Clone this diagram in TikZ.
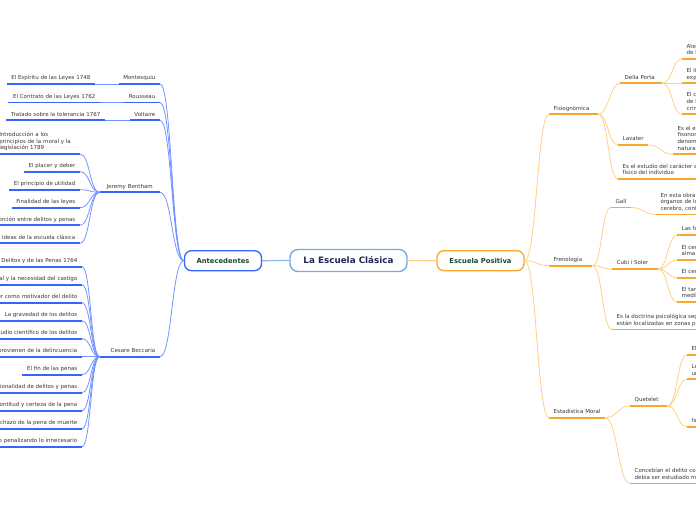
\documentclass[tikz,border=0pt]{standalone}
\usepackage{fontspec}
\setmainfont{DejaVu Sans}
\definecolor{txt}{RGB}{55,55,55}
\definecolor{bline}{RGB}{51,102,255}
\definecolor{bcurve}{RGB}{115,148,255}
\definecolor{oline}{RGB}{249,168,40}
\definecolor{ocurve}{RGB}{255,208,135}
\definecolor{cborder}{RGB}{120,170,225}
\definecolor{cline}{RGB}{140,182,235}
\definecolor{navy}{RGB}{28,40,85}
\definecolor{dgreen}{RGB}{25,72,52}
\tikzset{
 lbl/.style={font=\fontsize{5.5}{6.6}\selectfont, text=txt, inner xsep=4.5pt, inner ysep=2.5pt, text height=4.2pt, text depth=1.5pt},
 bl/.style={lbl, anchor=south east},
 ol/.style={lbl, anchor=south west},
 bul/.style={draw=bline, line width=1.7pt},
 oul/.style={draw=oline, line width=1.7pt},
 bc/.style={draw=bcurve, line width=0.8pt},
 oc/.style={draw=ocurve, line width=0.8pt},
 topic/.style={draw, line width=1.3pt, rounded corners=7pt, fill=white, minimum height=20pt, inner sep=0pt, font=\fontsize{6.8}{8}\selectfont\bfseries, text=dgreen}
}
\begin{document}
\begin{tikzpicture}[x=1pt,y=-1pt]
\useasboundingbox (0,0) rectangle (696,520);
\clip (0,0) rectangle (696,520);
% central nodes
\node[draw=cborder, line width=1.4pt, rounded corners=8pt, minimum width=117pt, minimum height=22pt, inner sep=0pt, font=\fontsize{8.8}{10}\selectfont\bfseries, text=navy] (ctr) at (348.5,260.5) {La Escuela Clásica};
\node[topic, draw=bline, minimum width=77pt] (ant) at (223,260.7) {Antecedentes};
\node[topic, draw=oline, minimum width=87pt] (pos) at (480.5,260.7) {Escuela Positiva};
% left branches
\node[bl] (mon) at (160,84) {Montesquiu};
\node[bl] (rou) at (160,102.5) {Rousseau};
\node[bl] (vol) at (160,120.3) {Voltaire};
\node[bl, text width=51pt, align=center] (ben) at (160,192.3) {Jeremy Bentham};
\node[bl, text width=51pt, align=right] (bec) at (160,356.7) {Cesare Beccaria};
\node[bl] (mon1) at (95,84) {El Espíritu de las Leyes 1748};
\node[bl] (rou1) at (100,102.5) {El Contrato de las Leyes 1762};
\node[bl] (vol1) at (105,120.3) {Tratado sobre la tolerancia 1767};
% Bentham leaves
\node[bl, text width=76pt, align=left, text depth=14.7pt] (b1) at (80,154) {Introducción a los\\principios de la moral y la\\legislación 1789};
\node[bl] (b2) at (80,171.7) {El placer y deber};
\node[bl] (b3) at (80,189.7) {El principio de utilidad};
\node[bl] (b4) at (80,207.7) {Finalidad de las leyes};
\node[bl] (b5) at (80,225.3) {Proporción entre delitos y penas};
\node[bl] (b6) at (80,243.3) {Principales ideas de la escuela clásica};
% Beccaria leaves
\node[bl] (c1) at (82,266.7) {De los Delitos y de las Penas 1764};
\node[bl] (c2) at (82,284.7) {El contrato social y la necesidad del castigo};
\node[bl] (c3) at (82,302.7) {El placer como motivador del delito};
\node[bl] (c4) at (82,320.7) {La gravedad de los delitos};
\node[bl] (c5) at (82,338.7) {El estudio científico de los delitos};
\node[bl] (c6) at (82,356.7) {Los males que provienen de la delincuencia};
\node[bl] (c7) at (82,374.7) {El fin de las penas};
\node[bl] (c8) at (82,392.7) {Proporcionalidad de delitos y penas};
\node[bl] (c9) at (82,410.7) {Prontitud y certeza de la pena};
\node[bl] (c10) at (82,428.7) {Rechazo de la pena de muerte};
\node[bl] (c11) at (82,446.7) {Evitar el abuso penalizando lo innecesario};
% right branches
\node[ol, text width=40pt, align=left] (fis) at (549,114.3) {Fisiognómica};
\node[ol, text width=34pt, align=left] (fre) at (549,265.7) {Frenología};
\node[ol] (est) at (549,417.7) {Estadística Moral};
\node[ol, text width=33pt, align=left] (dp) at (620,83.3) {Della Porta};
\node[ol] (lav) at (618,145) {Lavater};
\node[ol, align=left] (fis1) at (618,179) {Es el estudio del carácter a partir del aspecto\\físico del individuo};
\node[ol] (gall) at (611,207.5) {Gall};
\node[ol, text width=37pt, align=left] (cubi) at (612,269) {Cubi i Soler};
\node[ol, align=left] (fre1) at (612,329.5) {Es la doctrina psicológica según la cual las facultades\\están localizadas en zonas precisas del cerebro};
\node[ol, text width=28pt, align=left] (que) at (630,405.7) {Quetelet};
\node[ol, align=left] (est1) at (630,483.5) {Concebían el delito como un fenómeno social que\\debía ser estudiado mediante la estadística};
% right leaves
\node[ol, align=left] (dp1) at (682,59) {Atendió a la relación entre rasgos\\de la cara y el carácter};
\node[ol, align=left] (dp2) at (682,83.3) {El libro De humana physiognomonia\\explica la relación};
\node[ol, align=left] (dp3) at (682,114.3) {El criminal se distingue por\\de la forma de la cara\\criminales};
\node[ol, align=left] (lav1) at (673,154.3) {Es el estudio de la\\fisonomía, que él\\denominaba ciencia\\natural};
\node[ol, align=left] (gall1) at (656,214.5) {En esta obra describe los\\órganos de los sentidos del\\cerebro, conformando el cráneo};
\node[ol] (cubi1) at (677,235) {Las facultades del alma};
\node[ol, align=left] (cubi2) at (677,260) {El cerebro es el órgano del\\alma};
\node[ol] (cubi3) at (677,277.7) {El cerebro es múltiple};
\node[ol, align=left] (cubi4) at (677,302) {El tamaño del cerebro es\\medible};
\node[ol] (q1) at (687,355) {El hombre medio};
\node[ol, align=left] (q2) at (687,379.3) {Los delitos se cometen con\\una regularidad};
\node[ol] (q3) at (687,426.7) {factores sociales};
% underlines
\foreach \n in {mon,rou,vol,ben,bec,mon1,rou1,vol1,b1,b2,b3,b4,b5,b6,c1,c2,c3,c4,c5,c6,c7,c8,c9,c10,c11}
  \draw[bul] (\n.south west) -- (\n.south east);
\foreach \n in {fis,fre,est,dp,lav,fis1,gall,cubi,fre1,que,est1,dp1,dp2,dp3,lav1,gall1,cubi1,cubi2,cubi3,cubi4,q1,q2,q3}
  \draw[oul] (\n.south west) -- (\n.south east);
% main connectors
\draw[draw=cline, line width=1.2pt] (ant.east) -- (ctr.west);
\draw[draw=ocurve, line width=1.2pt] (ctr.east) -- (pos.west);
% left connectors
\foreach \n in {mon,rou,vol,ben,bec}
  \draw[bc] (\n.south east) .. controls +(12,0) and +(-12,0) .. (ant.west);
\draw[bc] (mon1.south east) -- (mon.south west);
\draw[bc] (rou1.south east) -- (rou.south west);
\draw[bc] (vol1.south east) -- (vol.south west);
\foreach \n in {b1,b2,b3,b4,b5,b6}
  \draw[bc] (\n.south east) .. controls +(10,0) and +(-10,0) .. (ben.south west);
\foreach \n in {c1,c2,c3,c4,c5,c6,c7,c8,c9,c10,c11}
  \draw[bc] (\n.south east) .. controls +(9,0) and +(-9,0) .. (bec.south west);
% right connectors
\foreach \n in {fis,fre,est}
  \draw[oc] (pos.east) .. controls +(12,0) and +(-12,0) .. (\n.south west);
\foreach \n in {dp,lav,fis1}
  \draw[oc] (fis.south east) .. controls +(10,0) and +(-10,0) .. (\n.south west);
\foreach \n in {dp1,dp2,dp3}
  \draw[oc] (dp.south east) .. controls +(10,0) and +(-10,0) .. (\n.south west);
\draw[oc] (lav.south east) .. controls +(12,0) and +(-12,0) .. (lav1.south west);
\foreach \n in {gall,cubi,fre1}
  \draw[oc] (fre.south east) .. controls +(10,0) and +(-10,0) .. (\n.south west);
\draw[oc] (gall.south east) .. controls +(12,0) and +(-12,0) .. (gall1.south west);
\foreach \n in {cubi1,cubi2,cubi3,cubi4}
  \draw[oc] (cubi.south east) .. controls +(9,0) and +(-9,0) .. (\n.south west);
\foreach \n in {que,est1}
  \draw[oc] (est.south east) .. controls +(12,0) and +(-12,0) .. (\n.south west);
\foreach \n in {q1,q2,q3}
  \draw[oc] (que.south east) .. controls +(10,0) and +(-10,0) .. (\n.south west);
\end{tikzpicture}
\end{document}
